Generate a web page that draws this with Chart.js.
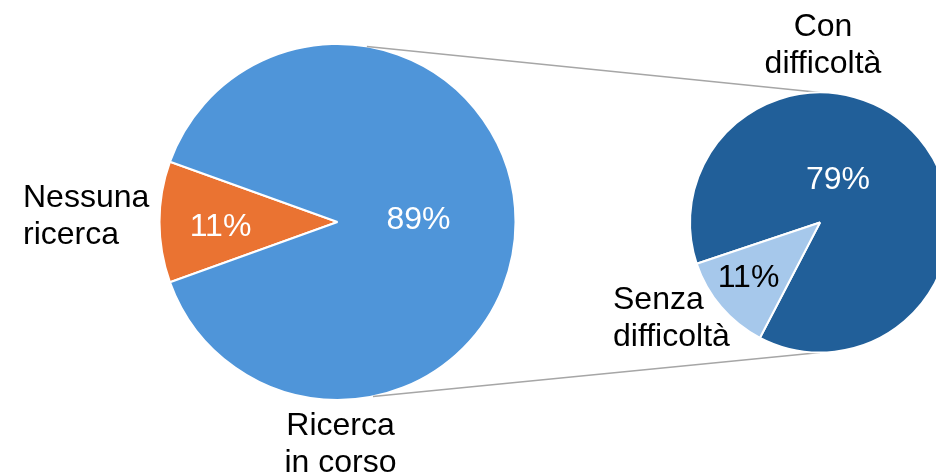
<!DOCTYPE html>
<html>
<head>
<meta charset="utf-8">
<script src="https://cdn.jsdelivr.net/npm/chart.js@4.4.0/dist/chart.umd.min.js"></script>
<style>
  html, body { margin: 0; padding: 0; background: #fff; overflow: hidden; }
  body { width: 936px; height: 475px; position: relative; }
  .layer { position: absolute; left: 0; top: 0; }
</style>
</head>
<body>
<div class="layer"><canvas id="mainPie" width="936" height="475"></canvas></div>
<div class="layer"><canvas id="subPie" width="1000" height="475"></canvas></div>
<script>
// main pie: searching or not
const mainLabels = [['Nessuna', 'ricerca'], ['Ricerca', 'in corso']];
const mainValues = [11, 89];
// secondary pie: breakdown of "Ricerca in corso"
const subLabels = [['Con', 'difficoltà'], ['Senza', 'difficoltà']];
const subValues = [79, 11];

const FONT = '32px "Liberation Sans", Arial, sans-serif';
const LINE_H = 37;

// draws percentages inside slices and category names outside
const sliceText = {
  id: 'sliceText',
  afterDatasetsDraw(chart, args, opts) {
    const ctx = chart.ctx;
    const arc = chart.getDatasetMeta(0).data[0];
    const cx = arc.x, cy = arc.y;
    const values = chart.data.datasets[0].data;
    ctx.save();
    ctx.font = FONT;
    ctx.textBaseline = 'alphabetic';
    values.forEach((v, i) => {
      const p = opts.pct[i];
      ctx.fillStyle = p.color;
      ctx.textAlign = 'center';
      ctx.fillText(v + '%', cx + p.dx, cy + p.dy);
    });
    chart.data.labels.forEach((lines, i) => {
      const n = opts.names[i];
      ctx.fillStyle = '#000';
      ctx.textAlign = n.align;
      lines.forEach((t, k) => ctx.fillText(t, cx + n.dx, cy + n.dy + k * LINE_H));
    });
    ctx.restore();
  }
};

// grey lines joining the two pies
const connectors = {
  id: 'connectors',
  beforeDatasetsDraw(chart, args, opts) {
    const a = mainChart.getDatasetMeta(0).data[0];
    const b = chart.getDatasetMeta(0).data[0];
    const ctx = chart.ctx;
    const t1 = -80.5 * Math.PI / 180, t2 = 78.5 * Math.PI / 180;
    ctx.save();
    ctx.strokeStyle = '#a6a6a6';
    ctx.lineWidth = 1.5;
    ctx.beginPath();
    ctx.moveTo(a.x + a.outerRadius * Math.cos(t1), a.y + a.outerRadius * Math.sin(t1));
    ctx.lineTo(b.x, b.y - b.outerRadius);
    ctx.moveTo(a.x + a.outerRadius * Math.cos(t2), a.y + a.outerRadius * Math.sin(t2));
    ctx.lineTo(b.x, b.y + b.outerRadius);
    ctx.stroke();
    ctx.restore();
  }
};

function pieOptions(padding, radius, rotation, textOpts) {
  return {
    responsive: false,
    animation: false,
    events: [],
    radius: radius,
    rotation: rotation,
    layout: { padding: padding },
    plugins: {
      legend: { display: false },
      tooltip: { enabled: false },
      sliceText: textOpts
    }
  };
}

const mainChart = new Chart(document.getElementById('mainPie'), {
  type: 'pie',
  data: {
    labels: mainLabels,
    datasets: [{
      data: mainValues,
      backgroundColor: ['#EA7332', '#4F95D9'],
      borderColor: '#fff',
      borderWidth: 2
    }]
  },
  options: pieOptions({ left: 160, right: 421, top: 45, bottom: 76 }, 178, 250.2, {
    pct: [{ dx: -117, dy: 14, color: '#fff' }, { dx: 81, dy: 7, color: '#fff' }],
    names: [{ dx: -314.5, dy: -15, align: 'left' }, { dx: 3, dy: 213, align: 'center' }]
  }),
  plugins: [sliceText]
});

const subChart = new Chart(document.getElementById('subPie'), {
  type: 'pie',
  data: {
    labels: subLabels,
    datasets: [{
      data: subValues,
      backgroundColor: ['#215F99', '#A6C8EB'],
      borderColor: '#fff',
      borderWidth: 2
    }]
  },
  options: pieOptions({ left: 691, right: 51, top: 93, bottom: 123 }, 130, 251.5, {
    pct: [{ dx: 18, dy: -34, color: '#fff' }, { dx: -71.5, dy: 64, color: '#000' }],
    names: [{ dx: 3, dy: -187, align: 'center' }, { dx: -207, dy: 86, align: 'left' }]
  }),
  plugins: [connectors, sliceText]
});
</script>
</body>
</html>
